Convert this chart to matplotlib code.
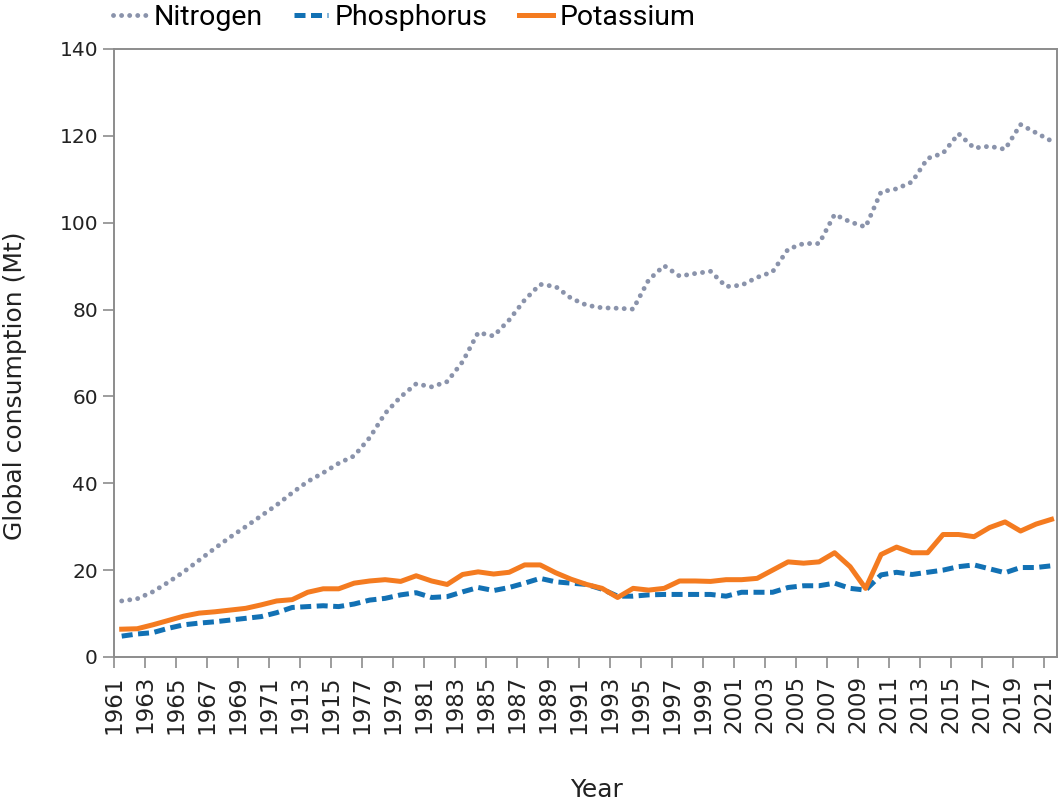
import matplotlib
matplotlib.use('Agg')
import matplotlib.pyplot as plt
import numpy as np

# global fertiliser consumption, Mt
years = np.arange(1961, 2022)
nitrogen = [12.9, 13.4, 15.0, 17.2, 19.6, 22.3, 25.0, 27.6, 30.0, 32.5,
            35.0, 37.8, 40.4, 42.4, 44.6, 46.3, 50.5, 56.1, 59.9, 62.9,
            62.2, 63.4, 68.0, 74.7, 73.9, 77.6, 82.2, 85.8, 85.3, 82.6,
            81.0, 80.4, 80.3, 80.1, 86.8, 90.1, 87.7, 88.3, 88.8, 85.3,
            85.6, 87.4, 88.7, 93.9, 95.2, 95.2, 101.9, 100.2, 99.0, 107.1,
            107.8, 109.4, 114.8, 116.0, 120.5, 117.2, 117.6, 116.9, 122.6, 120.7,
            118.8]
phosphorus = [4.8, 5.3, 5.6, 6.6, 7.4, 7.8, 8.1, 8.5, 8.9, 9.3,
              10.2, 11.4, 11.6, 11.8, 11.6, 12.2, 13.1, 13.5, 14.3, 14.8,
              13.7, 13.9, 15.0, 16.0, 15.3, 16.0, 17.0, 18.1, 17.3, 17.0,
              16.7, 15.6, 14.0, 14.0, 14.3, 14.4, 14.4, 14.4, 14.4, 14.0,
              14.9, 14.9, 14.9, 16.0, 16.4, 16.4, 17.0, 15.8, 15.4, 18.9,
              19.5, 19.0, 19.5, 20.0, 20.8, 21.2, 20.3, 19.4, 20.6, 20.6,
              21.0]
potassium = [6.4, 6.5, 7.4, 8.4, 9.4, 10.1, 10.4, 10.8, 11.2, 12.0,
             12.9, 13.2, 14.9, 15.7, 15.7, 17.0, 17.5, 17.8, 17.4, 18.7,
             17.5, 16.7, 19.0, 19.6, 19.1, 19.5, 21.2, 21.2, 19.4, 17.9,
             16.7, 15.8, 13.7, 15.8, 15.4, 15.8, 17.5, 17.5, 17.4, 17.8,
             17.8, 18.1, 20.0, 21.9, 21.6, 21.9, 24.0, 20.8, 15.8, 23.6,
             25.3, 24.0, 24.0, 28.2, 28.2, 27.7, 29.8, 31.1, 29.0, 30.6,
             31.7]
tick_years = np.arange(1961, 2022, 2)
tick_labels = ['1961', '1963', '1965', '1967', '1969', '1971', '1913', '1915',
               '1977', '1979', '1981', '1983', '1985', '1987', '1989', '1991',
               '1993', '1995', '1997', '1999', '2001', '2003', '2005', '2007',
               '2009', '2011', '2013', '2015', '2017', '2019', '2021']

grey = '#8c8c8c'
fig = plt.figure(figsize=(10.61, 8.07), dpi=100)
ax = fig.add_axes([0.1074, 0.1859, 0.8888, 0.7534])

x = years + 0.5
ax.plot(x, nitrogen, color='#8a93ab', lw=3.5, linestyle=(0, (0.01, 1.65)),
        dash_capstyle='round', label='Nitrogen')
ax.plot(x, phosphorus, color='#1271b4', lw=3.6, linestyle=(0, (2.2, 1.1)),
        label='Phosphorus')
ax.plot(x, potassium, color='#f47b20', lw=3.6, label='Potassium')

ax.set_xlim(1961, 2021.85)
ax.set_ylim(0, 140)
ax.set_yticks(np.arange(0, 141, 20))
ax.set_xticks(tick_years)
ax.set_xticklabels(tick_labels, rotation=90)

for s in ax.spines.values():
    s.set_color(grey)
    s.set_linewidth(1.4)
ax.tick_params(axis='both', colors=grey, width=1.2, length=8,
               labelcolor='#222222')
ax.tick_params(axis='y', labelsize=14.5)
ax.tick_params(axis='x', labelsize=16.5, pad=5)

ax.set_ylabel('Global consumption (Mt)', fontsize=18, color='#222222', va='center')
ax.yaxis.set_label_coords(-0.105, 0.446)
ax.set_xlabel('Year', fontsize=18, color='#222222', va='center')
ax.xaxis.set_label_coords(0.512, -0.219)

fig.legend(loc='upper left', bbox_to_anchor=(0.082, 1.027), ncol=3,
           frameon=False, handlelength=1.2, columnspacing=1.08,
           handletextpad=0.25, prop={'family': 'Roboto', 'size': 20.5})

plt.savefig('out.png', dpi=100)
